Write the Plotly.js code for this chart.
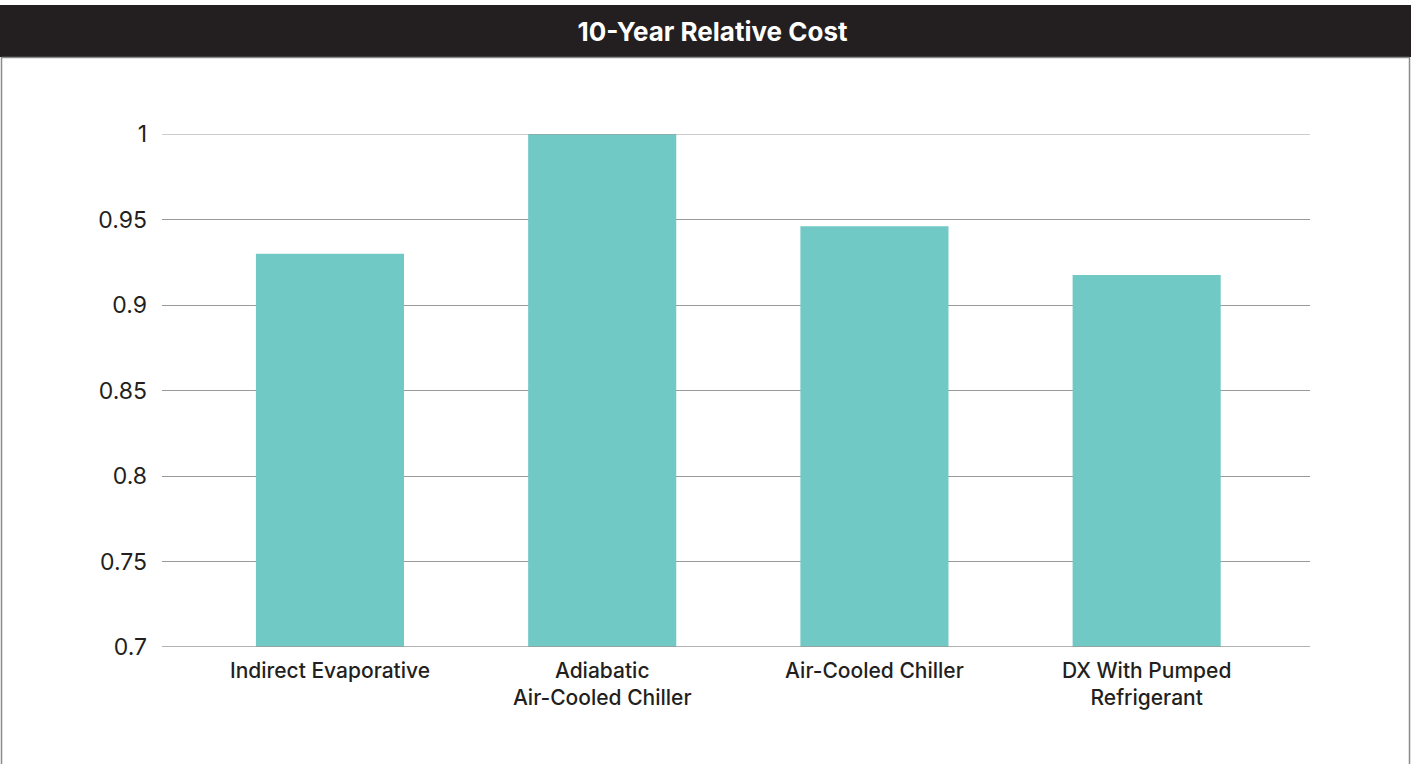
<!DOCTYPE html>
<html>
<head>
<meta charset="utf-8">
<script src="https://cdn.plot.ly/plotly-3.0.1.min.js"></script>
<style>html,body{margin:0;padding:0;background:#fff;}#chart{width:1411px;height:764px;}</style>
</head>
<body>
<div id="chart"></div>
<script>
const categories = ["Indirect Evaporative", "Adiabatic<br>Air-Cooled Chiller", "Air-Cooled Chiller", "DX With Pumped<br>Refrigerant"];
const relativeCost = [0.930, 1.000, 0.946, 0.9175];
const yTickValues = [0.7, 0.75, 0.8, 0.85, 0.9, 0.95, 1];
const yTickLabels = ["0.7", "0.75", "0.8", "0.85", "0.9", "0.95", "1"];
const chartTitle = "10-Year Relative Cost";

const W = 1411, H = 764;
const m = {l: 162, r: 101, t: 134, b: 117};
const pw = W - m.l - m.r, ph = H - m.t - m.b;
const px = x => (x - m.l) / pw;
const py = y => 1 - (y - m.t) / ph;

const trace = {
  type: 'bar',
  x: [0, 1, 2, 3],
  y: relativeCost,
  base: 0,
  width: 0.544,
  marker: {color: '#71c9c5', line: {width: 0}},
  hoverinfo: 'skip'
};

const layout = {
  width: W, height: H,
  margin: m,
  paper_bgcolor: '#ffffff',
  plot_bgcolor: '#ffffff',
  showlegend: false,
  font: {family: 'Inter, "Open Sans", sans-serif', color: '#231f20'},
  title: {
    text: '<b>' + chartTitle + '</b>',
    font: {family: 'Inter, "Open Sans", sans-serif', size: 26, color: '#ffffff'},
    x: 0.505, xref: 'container', xanchor: 'center',
    y: 1 - 32 / H, yref: 'container', yanchor: 'middle'
  },
  xaxis: {
    range: [-0.617, 3.6],
    tickmode: 'array',
    tickvals: [0, 1, 2, 3],
    ticktext: categories,
    showgrid: false,
    zeroline: false,
    showline: false,
    ticks: '',
    ticklabelstandoff: 9,
    tickfont: {family: 'Inter, "Open Sans", sans-serif', size: 21, color: '#231f20', weight: 500},
    fixedrange: true
  },
  yaxis: {
    range: [0.7, 1.0],
    tickmode: 'array',
    tickvals: yTickValues,
    ticktext: yTickLabels,
    showgrid: true,
    gridcolor: '#9a9a9a',
    gridwidth: 1,
    zeroline: false,
    showline: false,
    ticks: '',
    ticklabelstandoff: 14,
    tickfont: {family: 'Inter, "Open Sans", sans-serif', size: 23, color: '#231f20'},
    fixedrange: true
  },
  shapes: [
    {type: 'rect', xref: 'paper', yref: 'paper', x0: px(0), x1: px(1411), y0: py(57), y1: py(5),
     fillcolor: '#231f20', line: {width: 0}, layer: 'above'},
    {type: 'line', xref: 'paper', yref: 'paper', x0: px(1.5), x1: px(1409.5), y0: py(57.5), y1: py(57.5),
     line: {color: '#8a8a8a', width: 1.5}, layer: 'above'},
    {type: 'line', xref: 'paper', yref: 'paper', x0: px(1.5), x1: px(1.5), y0: py(57), y1: py(764),
     line: {color: '#8a8a8a', width: 1.5}, layer: 'above'},
    {type: 'line', xref: 'paper', yref: 'paper', x0: px(1409.5), x1: px(1409.5), y0: py(57), y1: py(764),
     line: {color: '#8a8a8a', width: 1.5}, layer: 'above'},
    {type: 'line', xref: 'paper', yref: 'y', x0: 0, x1: 1, y0: 0.7, y1: 0.7,
     line: {color: '#9a9a9a', width: 1.5}, layer: 'above'},
    {type: 'line', xref: 'paper', yref: 'y', x0: 0, x1: 1, y0: 1.0, y1: 1.0,
     line: {color: '#9a9a9a', width: 1}, layer: 'above'}
  ]
};

Plotly.newPlot('chart', [trace], layout, {displayModeBar: false, staticPlot: true});
</script>
</body>
</html>
